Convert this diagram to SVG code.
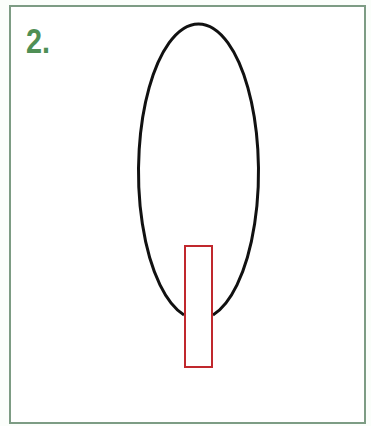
<svg xmlns="http://www.w3.org/2000/svg" width="371" height="426" viewBox="0 0 371 426">
<style>
.frame{fill:#ffffff;stroke:#7d9c84;stroke-width:2}
.label{font-family:"Liberation Sans",Arial,sans-serif;font-weight:bold;font-size:35px;fill:#4f8f55}
.outline{fill:none;stroke:#111111;stroke-width:3}
.stem{fill:none;stroke:#c0282d;stroke-width:2}
</style>
<rect width="371" height="426" fill="#fbfefb"/>
<g id="frame">
<rect class="frame" x="10" y="6" width="355" height="417"/>
<text class="label" x="26" y="53" textLength="24" lengthAdjust="spacingAndGlyphs">2.</text>
</g>
<g id="bulb">
<path class="outline" d="M184,315 A60,147.7 0 1 1 213,315"/>
</g>
<g id="stem">
<rect class="stem" x="185" y="246" width="27" height="121"/>
</g>
<g id="connectors"/>
</svg>
